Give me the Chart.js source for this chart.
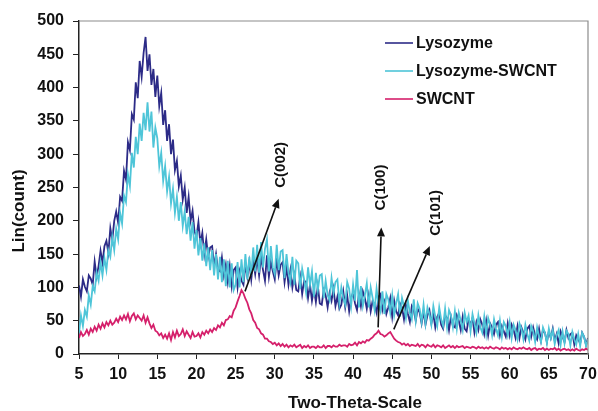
<!DOCTYPE html>
<html>
<head>
<meta charset="utf-8">
<script src="https://cdn.jsdelivr.net/npm/chart.js@4.4.1/dist/chart.umd.min.js"></script>
<style>
  html, body { margin: 0; padding: 0; background: #fff; }
</style>
</head>
<body>
<canvas id="xrd" width="598" height="411"></canvas>
<script>
// sampling grid of the scan (degrees two-theta)
const thetaStart = 5;
const thetaStep = 0.25;

const seriesNames = ['Lysozyme', 'Lysozyme-SWCNT', 'SWCNT'];

// counts, 4 points per degree, 5 .. 70
const lysozyme = [
  103, 86, 112, 101, 94, 118, 113, 104,
  139, 116, 132, 155, 137, 162, 170, 152,
  189, 171, 200, 214, 197, 236, 230, 275,
  262, 318, 306, 360, 352, 408, 384, 440,
  416, 452, 476, 425, 450, 404, 428, 386,
  418, 372, 392, 344, 366, 320, 345, 300,
  322, 276, 290, 252, 268, 232, 250, 212,
  236, 200, 215, 184, 176, 198, 166, 182,
  150, 172, 146, 160, 162, 132, 150, 126,
  124, 145, 118, 134, 108, 132, 102, 126,
  130, 100, 124, 110, 104, 134, 116, 138,
  112, 140, 120, 144, 118, 146, 126, 110,
  148, 116, 138, 124, 112, 142, 118, 134,
  138, 108, 130, 104, 126, 100, 118, 96,
  94, 116, 90, 110, 108, 84, 104, 80,
  98, 78, 102, 76, 74, 96, 88, 70,
  92, 80, 98, 72, 86, 68, 74, 94,
  70, 88, 64, 84, 92, 76, 66, 90,
  72, 94, 84, 68, 88, 64, 80, 74,
  62, 86, 90, 66, 78, 60, 70, 84,
  56, 80, 64, 58, 76, 70, 52, 74,
  60, 48, 72, 66, 50, 68, 62, 46,
  64, 44, 58, 66, 46, 60, 40, 56,
  62, 44, 38, 58, 54, 36, 56, 42,
  40, 58, 50, 36, 56, 38, 34, 52,
  44, 54, 32, 48, 36, 52, 44, 30,
  50, 28, 46, 40, 30, 44, 48, 28,
  42, 34, 26, 46, 28, 44, 36, 24,
  42, 24, 40, 32, 22, 38, 42, 26,
  40, 28, 22, 38, 20, 36, 32, 18,
  34, 24, 38, 20, 30, 16, 34, 26,
  18, 36, 24, 30, 32, 14, 28, 22,
  16, 32, 26, 14,
  24
];

const lysozymeSwcnt = [
  30, 58, 42, 66, 56, 88, 74, 102,
  94, 122, 110, 138, 118, 144, 126, 156,
  146, 176, 156, 188, 172, 212, 196, 238,
  228, 270, 252, 302, 280, 326, 300, 346,
  320, 362, 336, 378, 334, 364, 310, 340,
  324, 282, 302, 260, 282, 244, 266, 226,
  248, 212, 236, 200, 228, 192, 214, 180,
  206, 170, 198, 158, 186, 148, 174, 140,
  166, 132, 160, 126, 156, 118, 150, 112,
  146, 108, 142, 102, 140, 100, 136, 96,
  104, 138, 100, 142, 108, 150, 112, 146,
  118, 160, 124, 164, 122, 168, 130, 158,
  172, 124, 162, 130, 120, 164, 126, 154,
  156, 114, 150, 122, 108, 146, 104, 140,
  136, 98, 128, 112, 92, 130, 104, 124,
  86, 122, 96, 118, 120, 84, 110, 88,
  80, 114, 92, 108, 112, 76, 100, 84,
  74, 108, 98, 72, 104, 80, 126, 70,
  102, 72, 88, 106, 70, 100, 84, 66,
  98, 74, 64, 94, 60, 90, 82, 62,
  88, 58, 76, 90, 56, 84, 72, 54,
  80, 62, 52, 82, 50, 76, 68, 48,
  74, 46, 70, 60, 44, 72, 56, 42,
  70, 52, 42, 68, 40, 66, 58, 40,
  64, 38, 62, 50, 36, 62, 48, 58,
  34, 60, 46, 32, 58, 40, 32, 56,
  30, 54, 44, 28, 52, 38, 28, 50,
  26, 48, 42, 28, 48, 24, 44, 36,
  22, 46, 38, 22, 44, 30, 20, 42,
  34, 18, 40, 26, 18, 40, 32, 16,
  38, 24, 36, 15, 28, 36, 14, 34,
  16, 35, 30, 13, 33, 22, 14, 30,
  12, 32, 26, 12,
  22
];

const swcnt = [
  24, 33, 27, 30, 36, 29, 38, 33,
  41, 35, 44, 38, 46, 40, 48, 43,
  50, 44, 47, 53, 48, 56, 51, 58,
  52, 60, 49, 57, 61, 52, 58, 54,
  50, 58, 47, 55, 46, 39, 44, 35,
  33, 28, 31, 24, 29, 23, 31, 21,
  33, 25, 35, 27, 30, 37, 27, 34,
  29, 24, 33, 26, 27, 31, 25, 33,
  29, 35, 31, 37, 33, 39, 36, 43,
  40, 47, 43, 51, 52, 57, 55, 65,
  70, 79, 87, 96, 91, 83, 77, 67,
  61, 51, 47, 39, 37, 31, 29, 23,
  23, 19, 18, 15, 17, 13, 16, 12,
  15, 11, 14, 10, 13, 11, 14, 10,
  12, 14, 9, 12, 10, 13, 9, 11,
  11, 9, 12, 10, 10, 13, 9, 12,
  12, 10, 13, 11, 11, 14, 12, 13,
  13, 11, 15, 13, 14, 17, 13, 18,
  16, 19, 17, 21, 20, 23, 25, 29,
  31, 35, 30, 29, 26, 28, 31, 33,
  28, 23, 20, 18, 17, 14, 16, 13,
  15, 12, 14, 13, 12, 15, 11, 14,
  13, 10, 14, 12, 11, 14, 10, 13,
  12, 10, 13, 9, 11, 13, 10, 12,
  9, 12, 10, 11, 12, 9, 11, 10,
  9, 11, 10, 8, 11, 9, 10, 8,
  10, 8, 11, 9, 8, 10, 9, 7,
  10, 8, 9, 7, 9, 7, 10, 8,
  7, 9, 8, 10, 8, 7, 9, 6,
  8, 9, 6, 8, 7, 9, 6, 8,
  6, 8, 7, 9, 6, 8, 5, 7,
  8, 6, 7, 5, 7, 5, 8, 6,
  5, 7, 6, 8,
  6
];

// peak labels with their arrows, in data units (tail -> head)
const peakNotes = [
  { text: 'C(002)', from: [26.2, 94], to: [30.5, 233], label: [30.8, 284] },
  { text: 'C(100)', from: [43.2, 40], to: [43.6, 190], label: [43.6, 250] },
  { text: 'C(101)', from: [45.2, 37], to: [49.8, 162], label: [50.6, 212] }
];

const colors = ['#2c2b87', '#4ec5d8', '#d5206b'];
const FONT = '"Liberation Sans", Arial, sans-serif';

function toPoints(values) {
  return values.map((v, i) => ({ x: thetaStart + i * thetaStep, y: v }));
}

const notesPlugin = {
  id: 'notes',
  afterDatasetsDraw(chart) {
    const { ctx, chartArea: a, scales: { x, y } } = chart;
    ctx.save();

    // light frame on top and right
    ctx.strokeStyle = '#8c8c8c';
    ctx.lineWidth = 1.2;
    ctx.beginPath();
    ctx.moveTo(a.left, a.top);
    ctx.lineTo(a.right, a.top);
    ctx.lineTo(a.right, a.bottom);
    ctx.stroke();

    // arrows + rotated labels
    ctx.strokeStyle = '#111';
    ctx.fillStyle = '#111';
    ctx.lineWidth = 1.6;
    peakNotes.forEach(n => {
      const x0 = x.getPixelForValue(n.from[0]), y0 = y.getPixelForValue(n.from[1]);
      const x1 = x.getPixelForValue(n.to[0]), y1 = y.getPixelForValue(n.to[1]);
      const ang = Math.atan2(y1 - y0, x1 - x0);
      const hl = 9, hw = 4;
      const bx = x1 - hl * Math.cos(ang), by = y1 - hl * Math.sin(ang);
      ctx.beginPath();
      ctx.moveTo(x0, y0);
      ctx.lineTo(bx, by);
      ctx.stroke();
      ctx.beginPath();
      ctx.moveTo(x1, y1);
      ctx.lineTo(bx + hw * Math.sin(ang), by - hw * Math.cos(ang));
      ctx.lineTo(bx - hw * Math.sin(ang), by + hw * Math.cos(ang));
      ctx.closePath();
      ctx.fill();

      ctx.save();
      ctx.translate(x.getPixelForValue(n.label[0]), y.getPixelForValue(n.label[1]));
      ctx.rotate(-Math.PI / 2);
      ctx.font = 'bold 15px ' + FONT;
      ctx.textAlign = 'center';
      ctx.textBaseline = 'middle';
      ctx.fillText(n.text, 0, 0);
      ctx.restore();
    });

    // legend inside plot
    ctx.font = 'bold 16px ' + FONT;
    ctx.textAlign = 'left';
    ctx.textBaseline = 'middle';
    seriesNames.forEach((name, i) => {
      const ly = 43 + i * 28;
      ctx.strokeStyle = colors[i];
      ctx.lineWidth = 1.6;
      ctx.beginPath();
      ctx.moveTo(385, ly);
      ctx.lineTo(413, ly);
      ctx.stroke();
      ctx.fillStyle = '#111';
      ctx.fillText(name, 416, ly + 1);
    });

    // axis titles
    ctx.font = 'bold 17px ' + FONT;
    ctx.textAlign = 'center';
    ctx.fillText('Two-Theta-Scale', 355, 403);
    ctx.save();
    ctx.translate(19, 211);
    ctx.rotate(-Math.PI / 2);
    ctx.fillText('Lin(count)', 0, 0);
    ctx.restore();

    ctx.restore();
  }
};

new Chart(document.getElementById('xrd'), {
  type: 'line',
  data: {
    datasets: [
      { label: seriesNames[0], data: toPoints(lysozyme), borderColor: colors[0], order: 3 },
      { label: seriesNames[1], data: toPoints(lysozymeSwcnt), borderColor: colors[1], order: 2 },
      { label: seriesNames[2], data: toPoints(swcnt), borderColor: colors[2], order: 1 }
    ]
  },
  options: {
    responsive: false,
    animation: false,
    devicePixelRatio: 1,
    layout: { padding: { top: 21, right: 10, bottom: 0, left: 0 } },
    elements: {
      line: { borderWidth: 1.8, tension: 0 },
      point: { radius: 0 }
    },
    plugins: { legend: { display: false }, tooltip: { enabled: false } },
    scales: {
      x: {
        type: 'linear',
        min: 5, max: 70,
        ticks: { stepSize: 5, color: '#111', font: { family: FONT, size: 16, weight: 'bold' }, padding: 6, maxRotation: 0 },
        grid: { drawOnChartArea: false, drawTicks: true, tickLength: 5, color: '#222' },
        border: { display: true, color: '#222', width: 1.5 },
        afterFit(scale) { scale.height = 57; scale.paddingRight = 0; scale.paddingLeft = 0; }
      },
      y: {
        min: 0, max: 500,
        ticks: { stepSize: 50, color: '#111', font: { family: FONT, size: 16, weight: 'bold' }, padding: 9 },
        grid: { drawOnChartArea: false, drawTicks: true, tickLength: 6, color: '#222' },
        border: { display: true, color: '#222', width: 1.5 },
        afterFit(scale) { scale.width = 79; scale.paddingTop = 0; scale.paddingBottom = 0; }
      }
    }
  },
  plugins: [notesPlugin]
});
</script>
</body>
</html>
